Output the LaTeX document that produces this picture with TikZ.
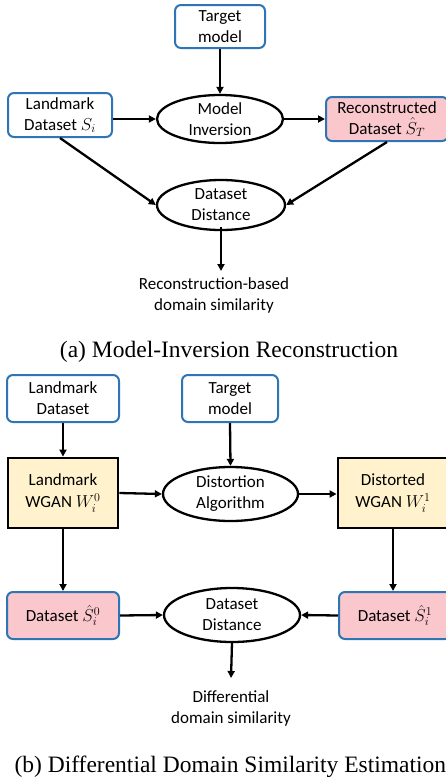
\documentclass[tikz,border=0pt]{standalone}
\usepackage{fontspec}
\setmainfont{Carlito}
\newfontfamily\capfont{Liberation Serif}
\usetikzlibrary{shapes.geometric,arrows.meta}
\definecolor{bbord}{RGB}{46,117,182}
\definecolor{pinkf}{RGB}{250,199,204}
\definecolor{yelf}{RGB}{255,242,204}
\tikzset{
  bluebox/.style={draw=bbord,line width=2pt,rounded corners=6pt,fill=white,align=center,inner sep=0pt,font=\fontsize{17}{21}\selectfont},
  pinkbox/.style={bluebox,fill=pinkf},
  wganbox/.style={draw=black,line width=2.8pt,fill=yelf,align=center,inner sep=0pt,font=\fontsize{17}{22}\selectfont},
  oval/.style={ellipse,draw=black,line width=2.3pt,fill=white,align=center,inner sep=0pt,font=\fontsize{17}{21}\selectfont},
  arr/.style={line width=2.3pt,-{Triangle[length=7pt,width=7pt]}},
  plain/.style={align=center,font=\fontsize{17}{21}\selectfont},
  captext/.style={font=\capfont\fontsize{23.5}{28}\selectfont}
}
\begin{document}
\begin{tikzpicture}[x=1pt,y=-1pt]
\useasboundingbox (0,0) rectangle (446,782);
% (a)
\node[bluebox,minimum width=90pt,minimum height=43pt] (ta) at (220,26.5) {Target\\model};
\node[bluebox,minimum width=104pt,minimum height=44pt] (la) at (60,115) {Landmark\\Dataset $S_i$};
\node[oval,minimum width=126pt,minimum height=48pt] (mi) at (220,119) {Model\\Inversion};
\node[pinkbox,minimum width=122pt,minimum height=44pt] (ra) at (387,119) {Reconstructed\\Dataset $\hat{S}_T$};
\node[oval,minimum width=128pt,minimum height=50pt] (dda) at (221,205) {Dataset\\Distance};
\coordinate (enda) at (221,271);
\node[plain] (sima) at (214,295) {Reconstruction-based\\domain similarity};
\node[captext] (capa) at (229,352) {(a) Model-Inversion Reconstruction};
\draw[arr] (ta.south) -- (mi.north);
\draw[arr] (la.east |- mi.west) -- (mi.west);
\draw[arr] (mi.east) -- (ra.west |- mi.east);
\draw[arr] (la.south) -- (dda.west);
\draw[arr] (ra.south) -- (dda.east);
\draw[arr] ([yshift=4pt]dda.south) -- (enda);
% (b)
\node[bluebox,minimum width=112pt,minimum height=47pt] (lb) at (63,398.5) {Landmark\\Dataset};
\node[bluebox,minimum width=96pt,minimum height=47pt] (tb) at (230,398.5) {Target\\model};
\node[wganbox,minimum width=110pt,minimum height=70pt] (w0) at (63,493) {Landmark\\WGAN $W_i^0$};
\node[oval,minimum width=135pt,minimum height=54pt] (da) at (230.5,494) {Distortion\\Algorithm};
\node[wganbox,minimum width=110pt,minimum height=70pt] (w1) at (393,493) {Distorted\\WGAN $W_i^1$};
\node[pinkbox,minimum width=112pt,minimum height=47pt] (s0) at (63,615.5) {Dataset $\hat{S}_i^0$};
\node[oval,minimum width=136pt,minimum height=54pt] (ddb) at (232,615) {Dataset\\Distance};
\node[pinkbox,minimum width=112pt,minimum height=47pt] (s1) at (395,615.5) {Dataset $\hat{S}_i^1$};
\coordinate (endb) at (231,678);
\node[plain] (simb) at (231,708) {Differential\\domain similarity};
\node[captext,anchor=west] (capb) at (11,767) {(b) Differential Domain Similarity Estimation};
\draw[arr] (lb.south) -- (w0.north);
\draw[arr] (tb.south) -- (da.north);
\draw[arr] (w0.east) -- (da.west);
\draw[arr] (da.east) -- (w1.west |- da.east);
\draw[arr] (w0.south) -- (s0.north);
\draw[arr] (w1.south) -- (w1.south |- s1.north);
\draw[arr] (s0.east) -- (ddb.west);
\draw[arr] (s1.west) -- (ddb.east);
\draw[arr] (ddb.south) -- (endb);
\end{tikzpicture}
\end{document}
